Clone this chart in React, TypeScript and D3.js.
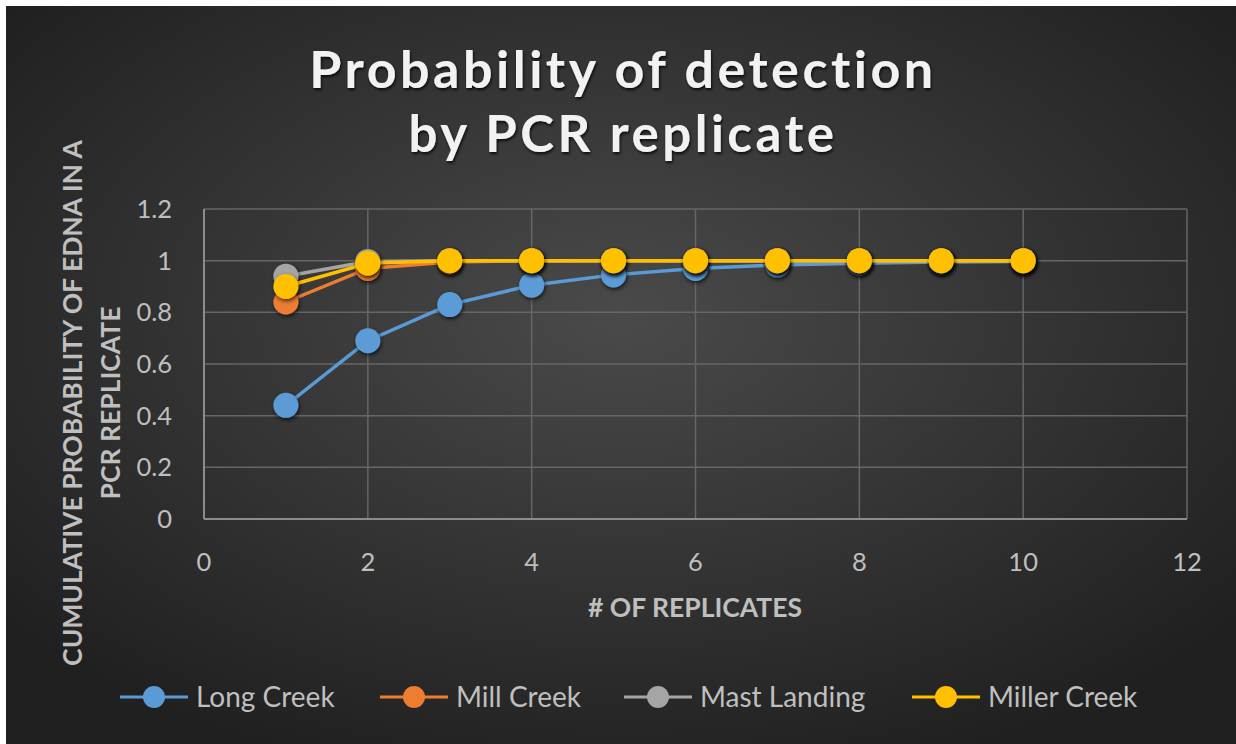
import React from 'react';
import * as d3 from 'd3';

const replicates = [1, 2, 3, 4, 5, 6, 7, 8, 9, 10];
const longCreek = [0.44, 0.69, 0.83, 0.905, 0.945, 0.97, 0.983, 0.99, 0.995, 0.997];
const millCreek = [0.84, 0.97, 0.995, 1, 1, 1, 1, 1, 1, 1];
const mastLanding = [0.94, 0.997, 1, 1, 1, 1, 1, 1, 1, 1];
const millerCreek = [0.9, 0.99, 1, 1, 1, 1, 1, 1, 1, 1];
const seriesNames = ['Long Creek', 'Mill Creek', 'Mast Landing', 'Miller Creek'];
const seriesColors = ['#5B9BD5', '#ED7D31', '#A5A5A5', '#FFC000'];
const xTicks = [0, 2, 4, 6, 8, 10, 12];
const yTicks = [0, 0.2, 0.4, 0.6, 0.8, 1, 1.2];

const W = 1236;
const H = 744;
const font = 'Lato, "Open Sans", sans-serif';

export default function App() {
  const m = { left: 204, right: 1187, top: 209, bottom: 519 };
  const x = d3.scaleLinear().domain([0, 12]).range([m.left, m.right]);
  const y = d3.scaleLinear().domain([0, 1.2]).range([m.bottom, m.top]);
  const line = d3.line<number>().x((_, i) => x(replicates[i])).y(d => y(d));
  const allSeries = [longCreek, millCreek, mastLanding, millerCreek];
  const legendX = [120, 380, 624, 912];

  return (
    <svg width={W} height={H} style={{ position: 'absolute', left: 0, top: 0 }}>
      <defs>
        <radialGradient id="bg" cx="50%" cy="42%" r="65%">
          <stop offset="0%" stopColor="#4a4a4a" />
          <stop offset="100%" stopColor="#202020" />
        </radialGradient>
        <filter id="shadow" x="-50%" y="-50%" width="200%" height="200%">
          <feDropShadow dx="1" dy="2" stdDeviation="2" floodColor="#000" floodOpacity="0.7" />
        </filter>
        <filter id="tshadow" x="-10%" y="-20%" width="120%" height="140%">
          <feDropShadow dx="1" dy="2" stdDeviation="1.5" floodColor="#000" floodOpacity="0.8" />
        </filter>
      </defs>
      <rect width={W} height={H} fill="#fff" />
      <rect x={6} y={6} width={W - 6} height={H - 6} fill="url(#bg)" />

      {/* title */}
      <g fill="#f2f2f2" fontFamily={font} fontWeight="bold" textAnchor="middle"
        letterSpacing={3.5} filter="url(#tshadow)">
        <text x={623} y={88} fontSize={52}>Probability of detection</text>
        <text x={623} y={152} fontSize={51}>by PCR replicate</text>
      </g>

      {/* grid */}
      <g stroke="#666" strokeWidth={1.5}>
        {yTicks.map(t => (
          <line key={'y' + t} x1={x(0)} x2={x(12)} y1={y(t)} y2={y(t)} />
        ))}
        {xTicks.map(t => (
          <line key={'x' + t} x1={x(t)} x2={x(t)} y1={y(0)} y2={y(1.2)} />
        ))}
      </g>
      <g stroke="#8c8c8c" strokeWidth={2}>
        <line x1={x(0)} x2={x(12)} y1={y(0)} y2={y(0)} />
        <line x1={x(0)} x2={x(0)} y1={y(0)} y2={y(1.2)} />
      </g>

      {/* tick labels */}
      <g fill="#bfbfbf" fontFamily={font} fontSize={25.5}>
        {yTicks.map(t => (
          <text key={'yl' + t} x={172} y={y(t)} dy="0.35em" textAnchor="end">{d3.format('~g')(t)}</text>
        ))}
        {xTicks.map(t => (
          <text key={'xl' + t} x={x(t)} y={562} dy="0.35em" textAnchor="middle">{t}</text>
        ))}
      </g>

      {/* axis titles */}
      <g fill="#bfbfbf" fontFamily={font} fontWeight="bold" fontSize={26.5}>
        <text x={695} y={608} dy="0.35em" textAnchor="middle">
          # OF REPLICATES
        </text>
        <text transform="translate(73,403) rotate(-90)" textAnchor="middle" dy="0.35em">
          CUMULATIVE PROBABILITY OF EDNA IN A
        </text>
        <text transform="translate(111,403) rotate(-90)" textAnchor="middle" dy="0.35em">
          PCR REPLICATE
        </text>
      </g>

      {/* series */}
      {allSeries.map((s, si) => (
        <g key={seriesNames[si]}>
          <path d={line(s) || ''} fill="none" stroke={seriesColors[si]} strokeWidth={3.5} />
          {s.map((v, i) => (
            <circle key={i} cx={x(replicates[i])} cy={y(v)} r={12.5} fill={seriesColors[si]}
              filter="url(#shadow)" />
          ))}
        </g>
      ))}

      {/* legend */}
      <g fontFamily={font} fontSize={28} fill="#bfbfbf">
        {seriesNames.map((n, i) => (
          <g key={n} transform={`translate(${legendX[i]},697)`}>
            <line x1={0} x2={68} y1={0} y2={0} stroke={seriesColors[i]} strokeWidth={3} />
            <circle cx={34} cy={0} r={11} fill={seriesColors[i]} />
            <text x={76} y={0} dy="0.35em">{n}</text>
          </g>
        ))}
      </g>
    </svg>
  );
}
